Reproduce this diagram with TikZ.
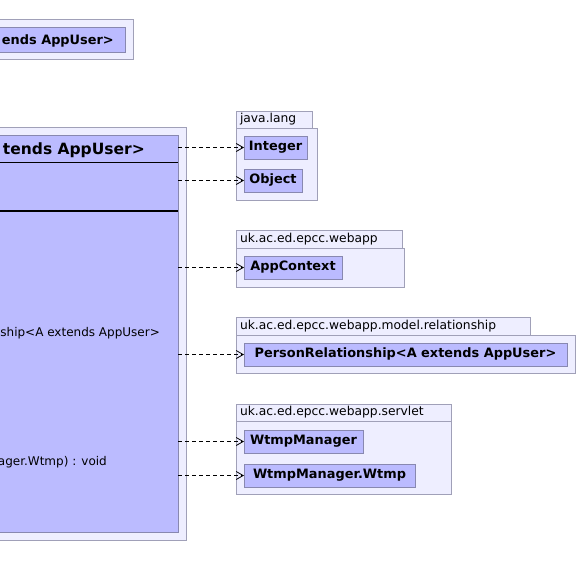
\documentclass[tikz,border=0pt]{standalone}
\usepackage{fontspec}
\setmainfont{DejaVu Sans}
\usetikzlibrary{arrows.meta}
\definecolor{pkgfill}{RGB}{238,238,255}
\definecolor{pkgdraw}{RGB}{160,160,184}
\definecolor{clsfill}{RGB}{187,187,255}
\definecolor{clsdraw}{RGB}{136,136,176}
\begin{document}
\begin{tikzpicture}[x=1pt,y=-1pt,
  box/.style={inner sep=0pt,outer sep=0pt,anchor=north west,line width=1pt},
  pkg/.style={box,draw=pkgdraw,fill=pkgfill},
  pkgtab/.style={pkg,inner xsep=4pt,align=left,font=\fontsize{12.3}{14}\selectfont,text height=9pt,text depth=3pt},
  cls/.style={box,draw=clsdraw,fill=clsfill,font=\fontsize{12.9}{14}\selectfont\bfseries,text height=9.4pt,text depth=2.6pt},
  txt/.style={inner sep=0pt,anchor=east},
  dep/.style={draw=black,line width=0.8pt,dash pattern=on 4pt off 3pt,
    -{Straight Barb[length=7pt,width=8pt,line width=0.8pt]}}]
\useasboundingbox (0,0) rectangle (578,578);
\clip (0,0) rectangle (578,578);

% top-left package (cut off)
\node[pkg,minimum width=145pt,minimum height=40pt] (pkgA) at (-12,20) {};
\node[cls,minimum width=137pt,minimum height=25pt] (clsA) at (-12,28) {};
\node[txt,font=\fontsize{12.9}{14}\selectfont\bfseries] (clsAname) at (114,41) {ends AppUser>};

% main package and class (cut off)
\node[pkg,minimum width=198pt,minimum height=413pt] (pkgMain) at (-12,127) {};
\node[cls,minimum width=190pt,minimum height=397pt] (main) at (-12,135) {};
\node[txt,font=\fontsize{15.5}{18}\selectfont\bfseries] (mainname) at (145,150) {tends AppUser>};
\draw[line width=1pt] (main.west |- 0,162) -- (main.east |- 0,162);
\draw[line width=2pt] (main.west |- 0,211) -- (main.east |- 0,211);
\node[txt,font=\fontsize{12}{14}\selectfont] (op1) at (160,333) {ship<A extends AppUser>};
\node[txt,font=\fontsize{12}{14}\selectfont] (op2) at (107,462) {ager.Wtmp) : void};

% java.lang
\node[pkgtab,minimum height=17pt,text width=68pt] (tabLang) at (236,111) {java.lang};
\node[pkg,minimum width=81pt,minimum height=72pt] (pkgLang) at (236,128) {};
\node[cls,minimum width=63pt,minimum height=23pt] (int) at (244,136) {Integer};
\node[cls,minimum width=58pt,minimum height=23pt] (obj) at (244,169) {Object};

% uk.ac.ed.epcc.webapp
\node[pkgtab,minimum height=18pt,text width=158pt] (tabWeb) at (236,230) {uk.ac.ed.epcc.webapp};
\node[pkg,minimum width=168pt,minimum height=39pt] (pkgWeb) at (236,248) {};
\node[cls,minimum width=98pt,minimum height=23pt] (ctx) at (244,256) {AppContext};

% uk.ac.ed.epcc.webapp.model.relationship
\node[pkgtab,minimum height=18pt,text width=286pt] (tabRel) at (236,317) {uk.ac.ed.epcc.webapp.model.relationship};
\node[pkg,minimum width=339pt,minimum height=38pt] (pkgRel) at (236,335) {};
\node[cls,minimum width=323pt,minimum height=23pt] (pr) at (244,343) {PersonRelationship<A extends AppUser>};

% uk.ac.ed.epcc.webapp.servlet
\node[pkgtab,minimum height=17pt,text width=207pt] (tabSrv) at (236,404) {uk.ac.ed.epcc.webapp.servlet};
\node[pkg,minimum width=215pt,minimum height=73pt] (pkgSrv) at (236,421) {};
\node[cls,minimum width=119pt,minimum height=23pt] (wm) at (244,430) {WtmpManager};
\node[cls,minimum width=171pt,minimum height=23pt] (wmw) at (244,464) {WtmpManager.Wtmp};

% dependencies
\draw[dep] (main.east |- int.west) -- (int.west);
\draw[dep] (main.east |- obj.west) -- (obj.west);
\draw[dep] (main.east |- ctx.west) -- (ctx.west);
\draw[dep] (main.east |- pr.west) -- (pr.west);
\draw[dep] (main.east |- wm.west) -- (wm.west);
\draw[dep] (main.east |- wmw.west) -- (wmw.west);
\end{tikzpicture}
\end{document}
